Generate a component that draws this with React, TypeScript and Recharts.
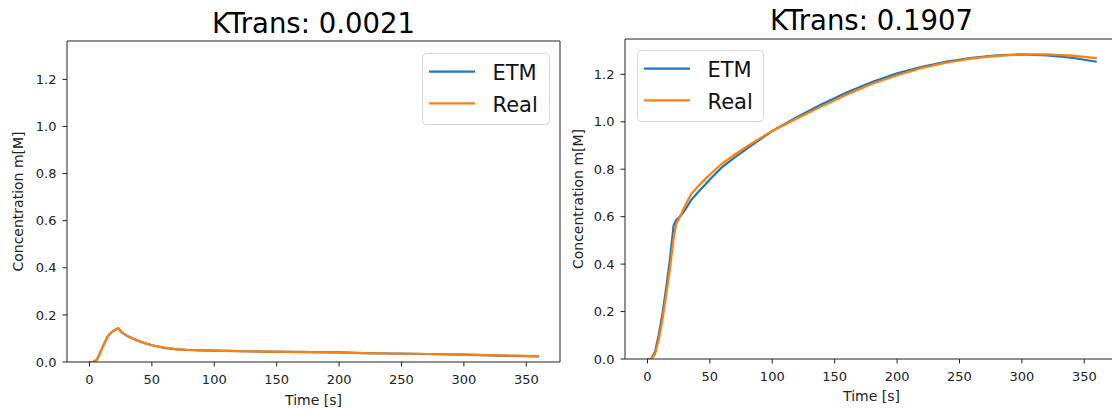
import { LineChart, Line, XAxis, YAxis, Label, ReferenceLine } from "recharts";

const TIME = [0, 3, 6, 9, 12, 15, 18, 21, 23, 26, 30, 35, 40, 45, 50, 60, 70, 80, 90, 100, 120, 140, 160, 180, 200, 220, 240, 260, 280, 300, 320, 340, 360];

// left panel, KTrans 0.0021
const LOW_ETM = [0, 0, 0.01, 0.045, 0.08, 0.112, 0.128, 0.138, 0.143, 0.125, 0.111, 0.099, 0.088, 0.079, 0.071, 0.06, 0.054, 0.051, 0.049, 0.048, 0.046, 0.044, 0.043, 0.042, 0.041, 0.038, 0.036, 0.035, 0.033, 0.031, 0.028, 0.026, 0.024];
const LOW_REAL = [0, 0, 0.009, 0.044, 0.08, 0.111, 0.128, 0.138, 0.143, 0.126, 0.111, 0.099, 0.088, 0.079, 0.071, 0.061, 0.054, 0.051, 0.049, 0.048, 0.046, 0.044, 0.043, 0.042, 0.04, 0.038, 0.036, 0.035, 0.033, 0.031, 0.029, 0.027, 0.025];

// right panel, KTrans 0.1907
const HIGH_ETM = [0, 0, 0.03, 0.1, 0.19, 0.3, 0.42, 0.565, 0.585, 0.6, 0.628, 0.67, 0.7, 0.728, 0.757, 0.81, 0.85, 0.888, 0.925, 0.961, 1.02, 1.075, 1.125, 1.168, 1.204, 1.232, 1.254, 1.27, 1.28, 1.284, 1.28, 1.27, 1.253];
const HIGH_REAL = [0, 0, 0.02, 0.08, 0.165, 0.27, 0.38, 0.51, 0.57, 0.6, 0.645, 0.695, 0.725, 0.752, 0.778, 0.825, 0.862, 0.897, 0.93, 0.961, 1.015, 1.066, 1.115, 1.16, 1.196, 1.227, 1.25, 1.267, 1.278, 1.284, 1.284, 1.279, 1.268];

const X_TICKS = [0, 50, 100, 150, 200, 250, 300, 350];
const Y_TICKS = [0, 0.2, 0.4, 0.6, 0.8, 1.0, 1.2];
const X_DOMAIN: [number, number] = [-18, 377];

const SERIES = [
  { key: "etm", name: "ETM", color: "#1f77b4" },
  { key: "real", name: "Real", color: "#ff7f0e" },
];

const FONT = "'DejaVu Sans', Verdana, sans-serif";
const INK = "#222";

function build(etm: number[], real: number[]) {
  return TIME.map((t, i) => ({ t, etm: etm[i], real: real[i] }));
}

function MplLegend({ left, top, width, height }: { left: number; top: number; width: number; height: number }) {
  return (
    <svg style={{ position: "absolute", left, top }} width={width} height={height}>
      <rect x={0.5} y={0.5} width={width - 1} height={height - 1} rx={4} fill="rgba(255,255,255,0.8)" stroke="#d6d6d6" />
      {SERIES.map((s, i) => {
        const y = 18.7 + i * 31.6;
        return (
          <g key={s.key}>
            <line x1={7} x2={53} y1={y} y2={y} stroke={s.color} strokeWidth={2.2} />
            <text x={70.5} y={y + 8.5} fontSize={21} fontFamily={FONT} fill="#111">
              {s.name}
            </text>
          </g>
        );
      })}
    </svg>
  );
}

function Panel(props: {
  data: { t: number; etm: number; real: number }[];
  width: number;
  top: number;
  yTop: number;
  axisW: number;
  axisH: number;
  labelOffset: number;
}) {
  const { data, width, top, yTop, axisW, axisH, labelOffset } = props;
  const tick = { fontSize: 13, fill: INK, fontFamily: FONT };
  return (
    <LineChart width={width} height={409} data={data} margin={{ top, right: 2, bottom: 0, left: 0 }}>
      <XAxis
        dataKey="t"
        type="number"
        domain={X_DOMAIN}
        ticks={X_TICKS}
        allowDataOverflow
        height={axisH}
        tickSize={4.5}
        tickMargin={8}
        tick={tick}
        stroke={INK}
      >
        <Label value="Time [s]" position="insideBottom" offset={labelOffset} fontSize={14} fill={INK} fontFamily={FONT} />
      </XAxis>
      <YAxis
        type="number"
        domain={[0, yTop]}
        ticks={Y_TICKS}
        allowDataOverflow
        width={axisW}
        tickSize={4.5}
        tickMargin={6}
        tick={tick}
        tickFormatter={(v) => Number(v).toFixed(1)}
        stroke={INK}
      >
        <Label
          value="Concentration m[M]"
          angle={-90}
          position="insideLeft"
          offset={18}
          fontSize={14}
          fill={INK}
          fontFamily={FONT}
          style={{ textAnchor: "middle" }}
        />
      </YAxis>
      {/* top and right spines */}
      <ReferenceLine y={yTop} stroke={INK} strokeWidth={1} />
      <ReferenceLine x={X_DOMAIN[1]} stroke={INK} strokeWidth={1} />
      {SERIES.map((s) => (
        <Line
          key={s.key}
          type="linear"
          dataKey={s.key}
          name={s.name}
          stroke={s.color}
          strokeWidth={2.2}
          dot={false}
          isAnimationActive={false}
        />
      ))}
    </LineChart>
  );
}

const titleStyle = {
  position: "absolute" as const,
  fontFamily: FONT,
  fontSize: 27.5,
  lineHeight: "27.5px",
  color: "#000",
  textAlign: "center" as const,
  whiteSpace: "nowrap" as const,
};

export default function App() {
  return (
    <div
      style={{
        position: "absolute",
        left: 0,
        top: 0,
        width: 1112,
        height: 409,
        overflow: "hidden",
        background: "#fff",
        fontFamily: FONT,
      }}
    >
      <div style={{ position: "absolute", left: 0, top: 0 }}>
        <Panel data={build(LOW_ETM, LOW_REAL)} width={562} top={41} yTop={1.363} axisW={67} axisH={47} labelOffset={4} />
      </div>
      <div style={{ position: "absolute", left: 560, top: 0 }}>
        <Panel data={build(HIGH_ETM, HIGH_REAL)} width={560} top={39} yTop={1.349} axisW={65} axisH={50} labelOffset={8} />
      </div>

      <div style={{ ...titleStyle, left: 67, width: 493, top: 10 }}>KTrans: 0.0021</div>
      <div style={{ ...titleStyle, left: 625, width: 493, top: 7.4 }}>KTrans: 0.1907</div>

      <MplLegend left={422} top={53} width={128} height={72} />
      <MplLegend left={637} top={50} width={127} height={72} />
    </div>
  );
}
